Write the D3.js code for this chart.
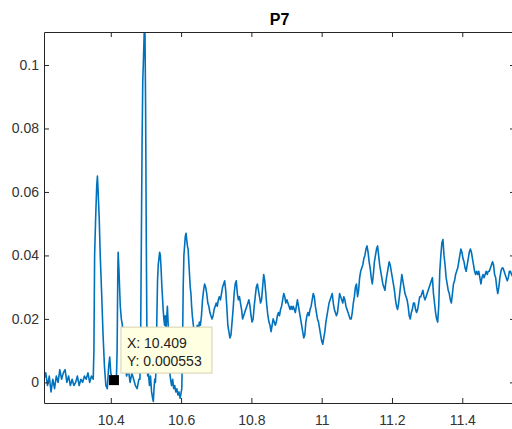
<!DOCTYPE html>
<html>
<head>
<meta charset="utf-8">
<script src="https://cdn.jsdelivr.net/npm/d3@7"></script>
<style>
  body { margin: 0; background: #fff; }
  text { font-family: "Liberation Sans", Arial, sans-serif; }
</style>
</head>
<body>
<script>

// sample times (x)
var time = [
  10.210, 10.215, 10.220, 10.225, 10.230, 10.235, 10.240, 10.245, 10.250, 10.255,
  10.260, 10.265, 10.270, 10.275, 10.280, 10.285, 10.290, 10.295, 10.300, 10.305,
  10.310, 10.315, 10.320, 10.325, 10.330, 10.335, 10.340, 10.345, 10.350,
  10.352, 10.354, 10.357, 10.360, 10.362, 10.364, 10.367, 10.370, 10.374, 10.378,
  10.382, 10.386, 10.390, 10.394, 10.397, 10.400, 10.404, 10.409, 10.413, 10.416,
  10.418, 10.420, 10.421, 10.423, 10.425, 10.427, 10.430, 10.433, 10.436, 10.440,
  10.445, 10.450, 10.455, 10.460, 10.465, 10.470, 10.475, 10.480, 10.483, 10.485,
  10.487, 10.489, 10.491, 10.493, 10.495, 10.497, 10.499, 10.501, 10.503, 10.505,
  10.507, 10.510, 10.513, 10.516, 10.519, 10.521, 10.523, 10.525, 10.527, 10.529,
  10.531, 10.533, 10.535, 10.537, 10.539, 10.541, 10.543, 10.545, 10.547, 10.549,
  10.551, 10.553, 10.555, 10.557, 10.559, 10.561, 10.563, 10.565, 10.567, 10.570,
  10.573, 10.576, 10.579, 10.582, 10.585, 10.588, 10.591, 10.594, 10.597, 10.599,
  10.602, 10.604, 10.606, 10.608, 10.610, 10.612, 10.614, 10.616, 10.618, 10.620,
  10.622, 10.624, 10.626, 10.628, 10.630, 10.632, 10.634, 10.637, 10.640, 10.643,
  10.646, 10.649, 10.652, 10.655, 10.658, 10.661, 10.664, 10.667, 10.670, 10.673,
  10.676, 10.679, 10.682, 10.685, 10.688, 10.691, 10.694, 10.697, 10.700, 10.703,
  10.706, 10.709, 10.712, 10.715, 10.718, 10.721, 10.724, 10.727, 10.730, 10.733,
  10.736, 10.739, 10.742, 10.745, 10.748, 10.751, 10.754, 10.757, 10.760, 10.763,
  10.766, 10.769, 10.772, 10.775, 10.778, 10.781, 10.784, 10.787, 10.790, 10.793,
  10.796, 10.799, 10.802, 10.805, 10.808, 10.811, 10.814, 10.817, 10.820, 10.823,
  10.826, 10.829, 10.832, 10.835, 10.838, 10.841, 10.844, 10.847, 10.850, 10.853,
  10.856, 10.859, 10.862, 10.865, 10.868, 10.871, 10.874, 10.877, 10.880, 10.883,
  10.886, 10.889, 10.892, 10.895, 10.898, 10.901, 10.904, 10.907, 10.910, 10.913,
  10.916, 10.919, 10.922, 10.925, 10.928, 10.931, 10.934, 10.937, 10.940, 10.943,
  10.946, 10.949, 10.952, 10.955, 10.958, 10.961, 10.964, 10.967, 10.970, 10.973,
  10.976, 10.979, 10.982, 10.985, 10.988, 10.991, 10.994, 10.997, 11.000, 11.003,
  11.006, 11.009, 11.012, 11.015, 11.018, 11.021, 11.024, 11.027, 11.030, 11.033,
  11.036, 11.039, 11.042, 11.045, 11.048, 11.051, 11.054, 11.057, 11.060, 11.063,
  11.066, 11.069, 11.072, 11.075, 11.078, 11.081, 11.084, 11.087, 11.090, 11.093,
  11.096, 11.099, 11.102, 11.105, 11.108, 11.111, 11.114, 11.117, 11.120, 11.123,
  11.126, 11.129, 11.132, 11.135, 11.138, 11.141, 11.144, 11.147, 11.150, 11.153,
  11.156, 11.159, 11.162, 11.165, 11.168, 11.171, 11.174, 11.177, 11.180, 11.183,
  11.186, 11.189, 11.192, 11.195, 11.198, 11.201, 11.204, 11.207, 11.210, 11.213,
  11.216, 11.219, 11.222, 11.225, 11.228, 11.231, 11.234, 11.237, 11.240, 11.243,
  11.246, 11.249, 11.252, 11.255, 11.258, 11.261, 11.264, 11.267, 11.270, 11.273,
  11.276, 11.279, 11.282, 11.285, 11.288, 11.291, 11.294, 11.297, 11.300, 11.303,
  11.306, 11.309, 11.312, 11.315, 11.318, 11.321, 11.324, 11.327, 11.330, 11.333,
  11.336, 11.339, 11.342, 11.345, 11.348, 11.351, 11.354, 11.357, 11.360, 11.363,
  11.366, 11.369, 11.372, 11.375, 11.378, 11.381, 11.384, 11.387, 11.390, 11.393,
  11.396, 11.399, 11.402, 11.405, 11.408, 11.411, 11.414, 11.417, 11.420, 11.423,
  11.426, 11.429, 11.432, 11.435, 11.438, 11.441, 11.444, 11.447, 11.450, 11.453,
  11.456, 11.459, 11.462, 11.465, 11.468, 11.471, 11.474, 11.477, 11.480, 11.483,
  11.486, 11.489, 11.492, 11.495, 11.498, 11.501, 11.504, 11.507, 11.510, 11.513,
  11.516, 11.519, 11.522, 11.525, 11.528, 11.531, 11.534, 11.537, 11.540, 11.545,
  11.550
];

// P7 signal values at those times
var p7 = [
  0.001, 0.003, -0.001, 0.002, -0.003, 0.001, -0.002, 0.002, 0.000, 0.004,
  0.001, 0.003, 0.004, 0.000, 0.002, -0.001, 0.001, -0.001, 0.000, 0.002,
  -0.001, 0.001, 0.000, 0.002, 0.001, 0.003, 0.000, 0.002, 0.001,
  0.010, 0.040, 0.052, 0.062, 0.065, 0.060, 0.052, 0.040, 0.028, 0.015,
  0.005, -0.001, -0.002, 0.005, 0.008, 0.003, 0.001, 0.000553, 0.002, 0.001,
  0.010, 0.035, 0.041, 0.036, 0.030, 0.024, 0.020, 0.018, 0.012, 0.006,
  0.002, 0.004, 0.000, 0.003, 0.001, -0.001, -0.002, 0.001, 0.001, 0.015,
  0.045, 0.075, 0.095, 0.102, 0.110, 0.114, 0.088, 0.045, 0.012, 0.002,
  0.003, -0.001, 0.002, -0.003, -0.005, -0.006, -0.002, 0.001, 0.000, 0.005,
  0.020, 0.032, 0.037, 0.039, 0.041, 0.040, 0.036, 0.031, 0.027, 0.023,
  0.020, 0.018, 0.021, 0.017, 0.020, 0.024, 0.019, 0.010, 0.004, 0.001,
  -0.001, 0.001, -0.002, -0.001, -0.003, -0.002, -0.004, -0.003, -0.005, -0.004,
  -0.002, 0.010, 0.030, 0.040, 0.043, 0.046, 0.047, 0.045, 0.043, 0.042,
  0.038, 0.034, 0.030, 0.028, 0.024, 0.021, 0.019, 0.016, 0.017, 0.015,
  0.018, 0.016, 0.019, 0.018, 0.021, 0.026, 0.029, 0.031, 0.030, 0.028,
  0.025, 0.024, 0.022, 0.021, 0.020, 0.021, 0.023, 0.024, 0.025, 0.024,
  0.026, 0.027, 0.026, 0.028, 0.030, 0.031, 0.032, 0.029, 0.024, 0.018,
  0.016, 0.014, 0.015, 0.019, 0.023, 0.028, 0.031, 0.032, 0.028, 0.026,
  0.027, 0.025, 0.023, 0.020, 0.021, 0.022, 0.023, 0.024, 0.025, 0.026,
  0.024, 0.021, 0.019, 0.020, 0.024, 0.027, 0.030, 0.031, 0.029, 0.027,
  0.025, 0.026, 0.030, 0.034, 0.032, 0.028, 0.024, 0.021, 0.019, 0.018,
  0.016, 0.018, 0.020, 0.019, 0.018, 0.019, 0.021, 0.022, 0.021, 0.023,
  0.024, 0.026, 0.028, 0.027, 0.025, 0.026, 0.025, 0.024, 0.023, 0.024,
  0.023, 0.024, 0.023, 0.022, 0.024, 0.026, 0.024, 0.022, 0.020, 0.018,
  0.016, 0.014, 0.015, 0.019, 0.021, 0.022, 0.021, 0.023, 0.024, 0.026,
  0.028, 0.027, 0.024, 0.022, 0.020, 0.019, 0.017, 0.015, 0.013, 0.012,
  0.014, 0.016, 0.019, 0.021, 0.023, 0.025, 0.026, 0.027, 0.028, 0.025,
  0.023, 0.022, 0.021, 0.022, 0.025, 0.028, 0.027, 0.026, 0.025, 0.027,
  0.026, 0.024, 0.023, 0.022, 0.021, 0.020, 0.020, 0.022, 0.025, 0.027,
  0.030, 0.031, 0.027, 0.029, 0.033, 0.035, 0.036, 0.037, 0.039, 0.040,
  0.042, 0.043, 0.041, 0.038, 0.036, 0.033, 0.031, 0.034, 0.038, 0.040,
  0.042, 0.043, 0.040, 0.037, 0.035, 0.033, 0.031, 0.030, 0.029, 0.032,
  0.034, 0.036, 0.038, 0.037, 0.035, 0.033, 0.031, 0.029, 0.026, 0.024,
  0.023, 0.025, 0.028, 0.031, 0.034, 0.032, 0.030, 0.028, 0.027, 0.026,
  0.024, 0.021, 0.020, 0.022, 0.023, 0.025, 0.025, 0.023, 0.022, 0.023,
  0.025, 0.027, 0.027, 0.028, 0.029, 0.027, 0.026, 0.027, 0.028, 0.029,
  0.030, 0.031, 0.032, 0.033, 0.028, 0.025, 0.022, 0.020, 0.019, 0.024,
  0.035, 0.040, 0.044, 0.045, 0.040, 0.037, 0.033, 0.031, 0.029, 0.028,
  0.026, 0.025, 0.028, 0.031, 0.032, 0.034, 0.035, 0.036, 0.038, 0.040,
  0.042, 0.041, 0.039, 0.038, 0.036, 0.035, 0.037, 0.039, 0.041, 0.042,
  0.041, 0.039, 0.037, 0.035, 0.034, 0.035, 0.034, 0.035, 0.033, 0.031,
  0.033, 0.034, 0.033, 0.034, 0.035, 0.034, 0.035, 0.035, 0.036, 0.037,
  0.038, 0.037, 0.034, 0.033, 0.030, 0.028, 0.030, 0.033, 0.035, 0.036,
  0.036, 0.035, 0.034, 0.033, 0.032, 0.033, 0.035, 0.035, 0.034, 0.033,
  0.034
];

var xTicks = [10.4, 10.6, 10.8, 11, 11.2, 11.4];
var xTickLabels = ["10.4", "10.6", "10.8", "11", "11.2", "11.4"];
var yTicks = [0, 0.02, 0.04, 0.06, 0.08, 0.1];
var yTickLabels = ["0", "0.02", "0.04", "0.06", "0.08", "0.1"];

var title = "P7";
var tipX = 10.409;   // data tip
var tipY = 0.000553;

var width = 512;
var height = 429;
var plot = {left: 44, right: 515, top: 32, bottom: 403};
var axisColor = "#262626";

var svg = d3.select("body")
            .append("svg")
            .attr("width", width)
            .attr("height", height);

var xScale = d3.scaleLinear()
               .domain([10.21, 11.55])
               .range([plot.left, plot.right]);

var yScale = d3.scaleLinear()
               .domain([-0.0065, 0.1104])
               .range([plot.bottom, plot.top]);

/* clip the trace to the axes box, like matlab does */
svg.append("clipPath")
   .attr("id", "box")
   .append("rect")
   .attr("x", plot.left)
   .attr("y", plot.top)
   .attr("width", plot.right - plot.left)
   .attr("height", plot.bottom - plot.top);

var line = d3.line()
             .x(function(d, i) { return xScale(time[i]); })
             .y(function(d) { return yScale(d); });

svg.append("path")
   .datum(p7)
   .attr("clip-path", "url(#box)")
   .attr("fill", "none")
   .attr("stroke", "#0072BD")
   .attr("stroke-width", 1.6)
   .attr("stroke-linejoin", "round")
   .attr("d", line);

/* axes, ticks point inward */
var xAxis = d3.axisBottom(xScale)
              .tickValues(xTicks)
              .tickFormat(function(d, i) { return xTickLabels[i]; })
              .tickSizeInner(-5).tickSizeOuter(0).tickPadding(12);

var yAxis = d3.axisLeft(yScale)
              .tickValues(yTicks)
              .tickFormat(function(d, i) { return yTickLabels[i]; })
              .tickSizeInner(-5).tickSizeOuter(0).tickPadding(5);

var xTop = d3.axisTop(xScale).tickValues(xTicks).tickFormat("")
             .tickSizeInner(-5).tickSizeOuter(0);
var yRight = d3.axisRight(yScale).tickValues(yTicks).tickFormat("")
               .tickSizeInner(-5).tickSizeOuter(0);

function styleAxis(g) {
    g.select(".domain").attr("stroke", axisColor);
    g.selectAll(".tick line").attr("stroke", axisColor);
    g.selectAll(".tick text")
     .attr("fill", "#333")
     .style("font-size", "14px")
     .style("font-family", "'Liberation Sans', Arial, sans-serif");
}

svg.append("g")
   .attr("transform", "translate(0," + plot.bottom + ")")
   .call(xAxis).call(styleAxis);

svg.append("g")
   .attr("transform", "translate(" + plot.left + ",0)")
   .call(yAxis).call(styleAxis);

svg.append("g")
   .attr("transform", "translate(0," + plot.top + ")")
   .call(xTop).call(styleAxis);

svg.append("g")
   .attr("transform", "translate(" + plot.right + ",0)")
   .call(yRight).call(styleAxis);

/* title */
svg.append("text")
   .attr("x", (plot.left + plot.right) / 2)
   .attr("y", 25)
   .attr("text-anchor", "middle")
   .attr("font-size", "16px")
   .attr("font-weight", "bold")
   .attr("fill", "#000")
   .text(title);

/* data tip marker and box */
var tx = xScale(tipX);
var ty = yScale(tipY);

svg.append("rect")
   .attr("x", tx - 5)
   .attr("y", ty - 5.5)
   .attr("width", 10)
   .attr("height", 10)
   .attr("fill", "#000");

var tip = svg.append("g")
             .attr("transform", "translate(" + (tx + 7) + "," + (ty - 53.5) + ")");

tip.append("rect")
   .attr("width", 91)
   .attr("height", 46)
   .attr("fill", "#ffffe1")
   .attr("stroke", "#d6d0b0")
   .attr("stroke-width", 1);

tip.append("text")
   .attr("x", 6)
   .attr("y", 20.5)
   .attr("font-size", "14px")
   .attr("fill", "#222")
   .text("X: " + tipX);

tip.append("text")
   .attr("x", 6)
   .attr("y", 38.5)
   .attr("font-size", "14px")
   .attr("fill", "#222")
   .text("Y: " + tipY);

</script>
</body>
</html>
